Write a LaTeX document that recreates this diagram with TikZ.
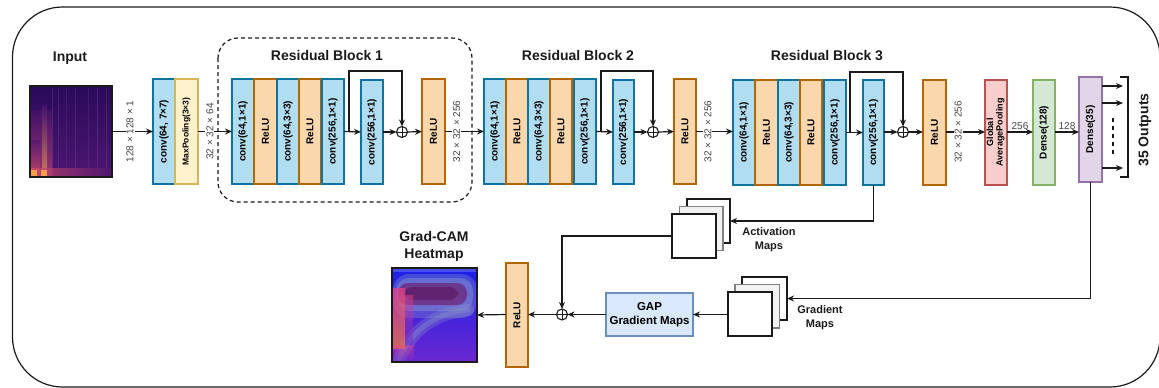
\documentclass[tikz,border=0pt]{standalone}
\usepackage{fontspec}
\setmainfont{Liberation Sans}
\usetikzlibrary{arrows.meta,calc}
\definecolor{cfill}{HTML}{B1DDF0}\definecolor{cdraw}{HTML}{10739E}
\definecolor{rfill}{HTML}{FAD7AC}\definecolor{rdraw}{HTML}{B46504}
\definecolor{yfill}{HTML}{FFF2CC}\definecolor{ydraw}{HTML}{D6B656}
\definecolor{gapfill}{HTML}{F8CECC}\definecolor{gapdraw}{HTML}{B85450}
\definecolor{gfill}{HTML}{D5E8D4}\definecolor{gdraw}{HTML}{82B366}
\definecolor{pfill}{HTML}{E1D5E7}\definecolor{pdraw}{HTML}{9673A6}
\definecolor{bfill}{HTML}{DAE8FC}\definecolor{bdraw}{HTML}{6C8EBF}
\definecolor{ink}{HTML}{1A1A1A}\definecolor{dimc}{HTML}{444444}
\definecolor{sp1}{HTML}{2A0A5A}\definecolor{sp2}{HTML}{4E1672}
\definecolor{sp3}{HTML}{D8506A}\definecolor{sp4}{HTML}{F9A84C}
\definecolor{hm1}{HTML}{1A20E8}\definecolor{hm2}{HTML}{6A28D0}
\definecolor{hm3}{HTML}{6E0E5A}\definecolor{hm4}{HTML}{8C98C8}
\definecolor{hm5}{HTML}{E8408A}\definecolor{hm6}{HTML}{F07A40}
\newcommand\Bx[7]{\node[#2, minimum width={(#5-#3)*1pt}, minimum height={(#6-#4)*1pt}] (#1) at ({(#3+#5)/2},{(#4+#6)/2}) {\rotatebox{90}{#7}};}
\newcommand\Sq[6]{\node[#2, minimum width={(#5-#3)*1pt}, minimum height={(#6-#4)*1pt}] (#1) at ({(#3+#5)/2},{(#4+#6)/2}) {};}
\begin{document}
\begin{tikzpicture}[x=1pt,y=-1pt,
  box/.style={draw, line width=1.1pt, inner sep=0pt, outer sep=0pt, align=center, font=\bfseries\fontsize{10}{11}\selectfont},
  cbox/.style={box, fill=cfill, draw=cdraw},
  rbox/.style={box, fill=rfill, draw=rdraw},
  ybox/.style={box, fill=yfill, draw=ydraw, font=\bfseries\fontsize{8.5}{10}\selectfont},
  gapbox/.style={box, fill=gapfill, draw=gapdraw, font=\bfseries\fontsize{9}{9.5}\selectfont},
  gbox/.style={box, fill=gfill, draw=gdraw},
  pbox/.style={box, fill=pfill, draw=pdraw},
  bbox/.style={box, fill=bfill, draw=bdraw, font=\bfseries\fontsize{11.5}{14.5}\selectfont},
  mapa/.style={draw=ink, line width=1.1pt, fill=white, inner sep=0pt, outer sep=0pt},
  mapb/.style={draw=gray, line width=1.1pt, fill=black!5, inner sep=0pt, outer sep=0pt},
  imgbox/.style={draw=ink, line width=1.2pt, inner sep=0pt, outer sep=0pt},
  arr/.style={draw=ink, line width=1.2pt, -{Stealth[length=7pt,width=6pt]}},
  ln/.style={draw=ink, line width=1.2pt},
  plus/.style={circle, draw=ink, line width=1.1pt, minimum size=11pt, inner sep=0pt, outer sep=0pt,
    path picture={\draw[ink, line width=1pt] (path picture bounding box.north) -- (path picture bounding box.south)
      (path picture bounding box.west) -- (path picture bounding box.east);}},
  dim/.style={fill=white, inner sep=1pt, text=dimc, font=\fontsize{10}{10}\selectfont},
  title/.style={font=\bfseries\fontsize{14}{17}\selectfont, align=center, text=ink},
  lab/.style={font=\bfseries\fontsize{11}{14}\selectfont, align=center, text=ink}
]
\clip (0,0) rectangle (1159,388);
% outer frame
\draw[ink, line width=1.2pt, rounded corners=50pt] (12.5,7) rectangle (1160,387);
% dashed residual block 1
\draw[ink, line width=1.2pt, dash pattern=on 4pt off 3pt, rounded corners=20pt] (218,38) rectangle (472,202);

% input spectrogram
\shade[top color=sp1, bottom color=sp2] (30,86) rectangle (112,177);
\foreach \xx/\op in {52/0.3,58/0.25,66/0.2,75/0.25,88/0.2,97/0.3,106/0.25}{\draw[sp2!70!white, line width=0.7pt, opacity=\op] (\xx,88) -- (\xx,170);}
\shade[top color=sp2, bottom color=sp3, fill opacity=0.55] (30,110) rectangle (52,177);
\shade[top color=sp2, bottom color=sp3, fill opacity=0.6] (30,140) rectangle (40,177);
\shade[top color=sp2, bottom color=sp4, fill opacity=0.6] (42,105) rectangle (47,177);
\shade[left color=sp3, right color=sp2, fill opacity=0.7] (30,168) rectangle (112,176);
\fill[sp4, opacity=0.9] (30,170) rectangle (37,176);
\fill[sp4, opacity=0.9] (41,170) rectangle (47,176);
\Sq{img}{imgbox}{30}{86}{112}{177}
\node[title] (inlab) at (70,58) {Input};

% stem
\Bx{c0}{cbox}{153}{79}{175}{184}{conv(64, 7×7)}
\Bx{mp}{ybox}{175}{79}{198}{184}{MaxPooling(3×3)}

% residual block 1
\Bx{a1}{cbox}{232}{79}{254}{184}{conv(64,1×1)}
\Bx{a2}{rbox}{254}{79}{277}{184}{ReLU}
\Bx{a3}{cbox}{277}{79}{299}{184}{conv(64,3×3)}
\Bx{a4}{rbox}{299}{79}{321}{184}{ReLU}
\Bx{a5}{cbox}{322}{79}{344}{184}{conv(256,1×1)}
\Bx{as}{cbox}{361}{80}{383}{184}{conv(256,1×1)}
\node[plus] (ap) at (402,132) {};
\Bx{ar}{rbox}{422}{79}{445}{184}{ReLU}
\node[title] (t1) at (327,55) {Residual Block 1};

% residual block 2
\Bx{b1}{cbox}{484}{79}{506}{184}{conv(64,1×1)}
\Bx{b2}{rbox}{506}{79}{528}{184}{ReLU}
\Bx{b3}{cbox}{528}{79}{550}{184}{conv(64,3×3)}
\Bx{b4}{rbox}{550}{79}{572}{184}{ReLU}
\Bx{b5}{cbox}{574}{79}{596}{184}{conv(256,1×1)}
\Bx{bs}{cbox}{613}{80}{634}{184}{conv(256,1×1)}
\node[plus] (bp) at (653,132) {};
\Bx{br}{rbox}{674}{79}{696}{184}{ReLU}
\node[title] (t2) at (578,55) {Residual Block 2};

% residual block 3
\Bx{c1}{cbox}{733}{80}{755}{185}{conv(64,1×1)}
\Bx{c2}{rbox}{755}{80}{778}{185}{ReLU}
\Bx{c3}{cbox}{778}{80}{800}{185}{conv(64,3×3)}
\Bx{c4}{rbox}{800}{80}{822}{185}{ReLU}
\Bx{c5}{cbox}{824}{80}{846}{185}{conv(256,1×1)}
\Bx{cs}{cbox}{863}{80}{884}{185}{conv(256,1×1)}
\node[plus] (cp) at (903,132) {};
\Bx{cr}{rbox}{923}{80}{946}{185}{ReLU}
\node[title] (t3) at (827,56) {Residual Block 3};

% head
\Bx{gap}{gapbox}{985}{80}{1007}{185}{\begin{tabular}{@{}c@{}}Global\\AveragePooling\end{tabular}}
\Bx{d1}{gbox}{1033}{80}{1055}{185}{Dense(128)}
\Bx{d2}{pbox}{1079}{77}{1102}{182}{Dense(35)}

% main chain arrows
\draw[arr] (img.east) -- node[dim, pos=0.44]{\rotatebox{90}{128 × 128 × 1}} (c0.west);
\draw[arr] (mp.east) -- node[dim, pos=0.35]{\rotatebox{90}{32 × 32 × 64}} (a1.west);
\draw[arr] (a5.east) -- (as.west);
\draw[arr] (as.east) -- (ap.west);
\draw[arr] (ap.east) -- (ar.west);
\draw[arr] (ar.east) -- node[dim, pos=0.3]{\rotatebox{90}{32 × 32 × 256}} (b1.west);
\draw[arr] (b5.east) -- (bs.west);
\draw[arr] (bs.east) -- (bp.west);
\draw[arr] (bp.east) -- (br.west);
\draw[arr] (br.east) -- node[dim, pos=0.32]{\rotatebox{90}{32 × 32 × 256}} (c1.west |- br.east);
\draw[arr] (c5.east |- cs.west) -- (cs.west);
\draw[arr] (cs.east |- cp.west) -- (cp.west);
\draw[arr] (cp.east) -- (cr.west |- cp.east);
\draw[arr] (cr.east |- cp.east) -- node[dim, pos=0.31]{\rotatebox{90}{32 × 32 × 256}} (gap.west |- cp.east);
\draw[arr] (gap.east |- cp.east) -- node[above=1pt, inner sep=1pt, text=dimc, font=\fontsize{10}{10}\selectfont]{256} (d1.west |- cp.east);
\draw[arr] (d1.east |- cp.east) -- node[above=1pt, inner sep=1pt, text=dimc, font=\fontsize{10}{10}\selectfont]{128} (d2.west |- cp.east);

% skip connections
\coordinate (ak) at ($(a5.east)+(5,0)$);
\coordinate (bk) at ($(b5.east)+(5,0)$);
\coordinate (ck) at ($(c5.east |- cp)+(4,0)$);
\draw[arr] (ak) |- (ap.north |- 0,71) -- (ap.north);
\draw[arr] (bk) |- (bp.north |- 0,71) -- (bp.north);
\draw[arr] (ck) |- (cp.north |- 0,72) -- (cp.north);

% outputs
\coordinate (o1) at (1123,86);
\coordinate (o2) at (1123,103);
\coordinate (o3) at (1123,168);
\draw[arr] (d2.east |- o1) -- (o1);
\draw[arr] (d2.east |- o2) -- (o2);
\draw[arr] (d2.east |- o3) -- (o3);
\draw[ln, dash pattern=on 4pt off 4pt] (1113,118) -- (1113,156);
\draw[ln] (1120,77) -- (1128,77) -- (1128,177) -- (1120,177);
\node[title, rotate=90] (outlab) at (1145,130) {35 Outputs};

% activation maps
\Sq{am3}{mapa}{687}{199}{730}{243}
\Sq{am2}{mapb}{679.5}{206.5}{723}{250.5}
\Sq{am1}{mapa}{672}{214}{716}{258}
\node[lab] (amlab) at (769,240) {Activation\\Maps};
\draw[arr] (cs.south) |- (am3.east);

% gradient maps
\Sq{gm3}{mapa}{742}{277}{787}{320}
\Sq{gm2}{mapb}{735}{284.5}{779.5}{328}
\Sq{gm1}{mapa}{728}{292}{772}{336}
\node[lab] (gmlab) at (820,318) {Gradient\\Maps};
\draw[arr] (d2.south) |- (gm3.east);

% GAP gradient maps
\node[bbox, minimum width=87pt, minimum height=43pt] (gg) at (649.5,314.5) {GAP\\Gradient Maps};
\node[plus] (pp) at (562,314.5) {};
\draw[arr] (gm1.west |- gg.east) -- (gg.east);
\draw[arr] (gg.west) -- (pp.east);
\draw[arr] (am1.west) -| (pp.north);
\Bx{rr}{rbox}{506}{263}{528}{367}{ReLU}
\draw[arr] (pp.west) -- (rr.east |- pp.west);

% heatmap
\begin{scope}
\clip (392,268) rectangle (477,362);
\shade[top color=hm1, bottom color=hm2] (392,268) rectangle (477,362);
\draw[hm4, line width=12pt, opacity=0.3, line cap=round] (468,310) .. controls (432,314) and (410,332) .. (398,362);
\draw[hm4, line width=5pt, opacity=0.35, line cap=round] (468,310) .. controls (432,314) and (410,332) .. (398,362);
\fill[hm4, opacity=0.35, rounded corners=16pt] (393,274) rectangle (477,318);
\fill[hm4, opacity=0.45, rounded corners=13pt] (396,278) rectangle (473,311);
\fill[hm3, opacity=0.55, rounded corners=10pt] (398,283) rectangle (467,305);
\fill[hm3!80!black, opacity=0.45, rounded corners=8pt] (404,287) rectangle (458,300);
\shade[top color=hm5, bottom color=hm6, fill opacity=0.75] (392,288) rectangle (405,348);
\shade[top color=hm5, bottom color=hm2, fill opacity=0.5] (405,295) rectangle (413,345);
\shade[top color=hm5, bottom color=hm2, fill opacity=0.45] (392,345) rectangle (414,362);
\fill[hm1!60!white, opacity=0.5] (392,268) rectangle (477,272);
\end{scope}
\Sq{heat}{imgbox}{392}{268}{477}{362}
\draw[arr] (rr.west |- pp.west) -- (heat.east);
\node[title] (hmlab) at (434,246) {Grad-CAM\\Heatmap};
\end{tikzpicture}
\end{document}
